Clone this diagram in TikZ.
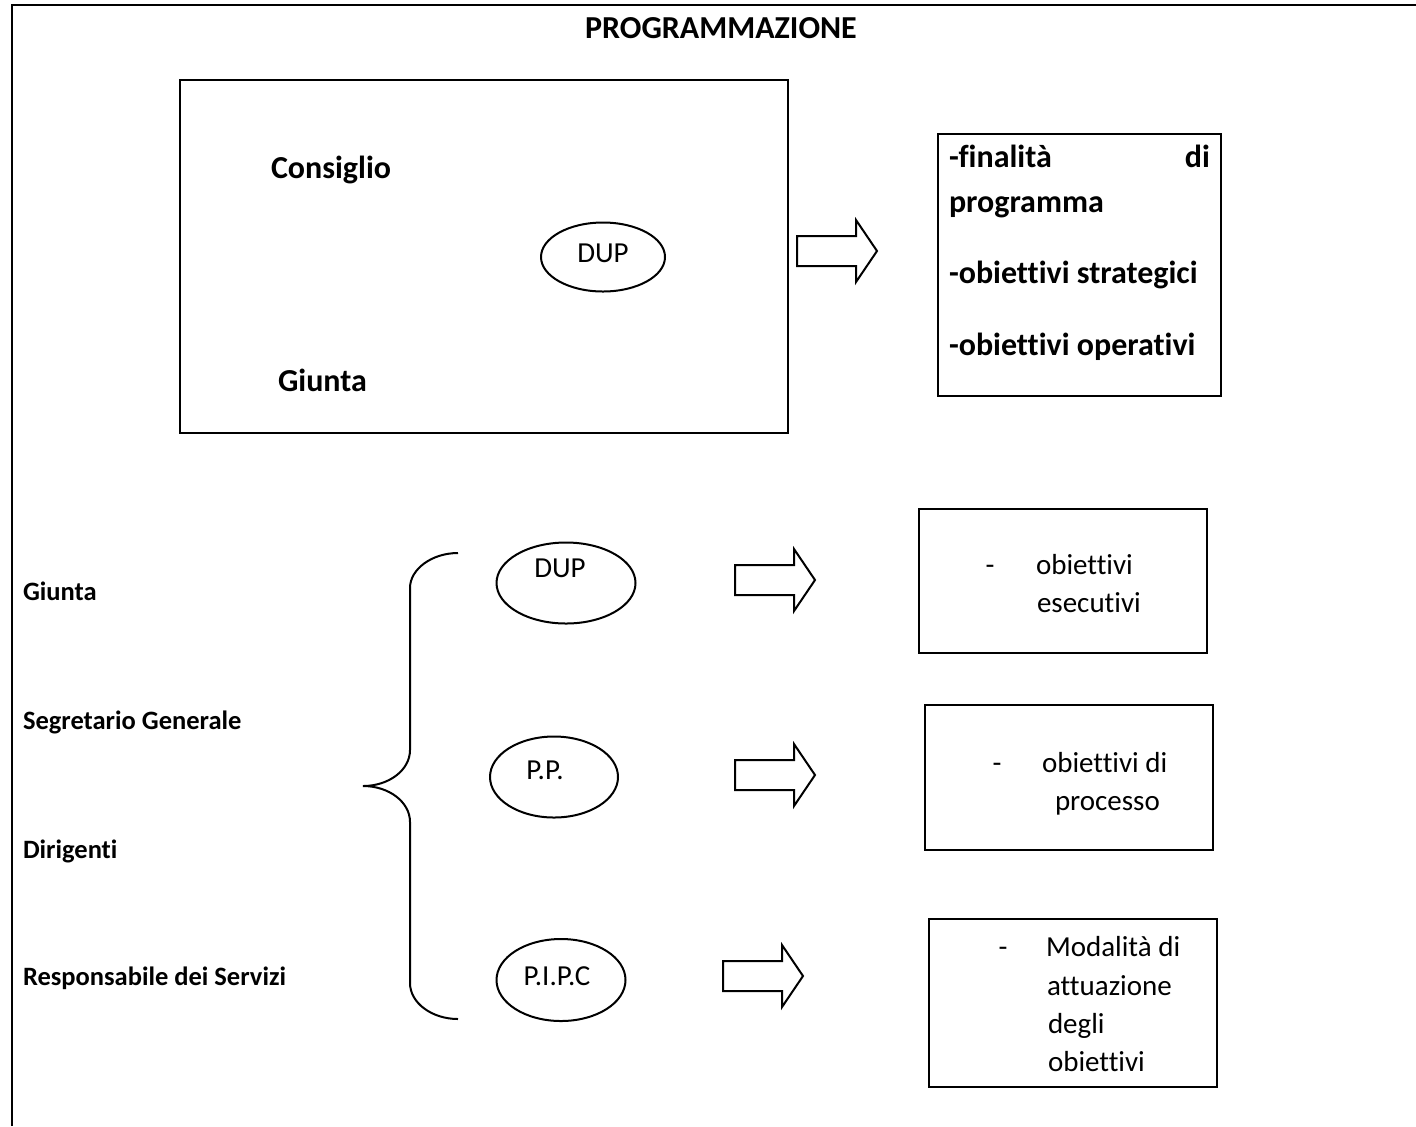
\documentclass[tikz,border=0pt]{standalone}
\usepackage{fontspec}
\setmainfont{Carlito}[Ligatures=CommonOff]
\usetikzlibrary{shapes.geometric}

\tikzset{
	big/.style={font=\fontsize{16}{19}\selectfont\bfseries},
	lab/.style={font=\fontsize{13.25}{16}\selectfont\bfseries},
	txt/.style={font=\fontsize{14.5}{17}\selectfont},
	oval/.style={draw, ellipse, line width=1pt, inner sep=0pt},
	fatarrow/.pic={\draw[line width=1pt] (0,-15) -- (59,-15) -- (59,-31) -- (80,0) -- (59,31) -- (59,15) -- (0,15) -- cycle;}
}

\begin{document}
\begin{tikzpicture}[x=0.5pt, y=-0.5pt, line width=1pt]
	\useasboundingbox (0,0) rectangle (1416,1126);
	\draw[line width=1.3pt] (12,1126) -- (12,5) -- (1416,5);
	\node[big] (1) at (721,28) {PROGRAMMAZIONE};

	% upper part
	\draw (180,80) rectangle (788,433);
	\node[big, anchor=base west, inner sep=0pt] (2) at (270,178) {Consiglio};
	\node[big, anchor=base west, inner sep=0pt] (3) at (277,391) {Giunta};
	\node[oval, minimum width=62pt, minimum height=34.5pt] (4) at (603,257) {};
	\node[txt, anchor=base] (5) at (603,262) {DUP};
	\pic at (797,251) {fatarrow};
	\draw (938,134) rectangle (1221,396);
	\node[big, anchor=base west, inner sep=0pt] (6) at (948,167) {-finalità};
	\node[big, anchor=base east, inner sep=0pt] (7) at (1211,167) {di};
	\node[big, anchor=base west, inner sep=0pt] (8) at (948,212) {programma};
	\node[big, anchor=base west, inner sep=0pt] (9) at (948,283) {-obiettivi strategici};
	\node[big, anchor=base west, inner sep=0pt] (10) at (948,355) {-obiettivi operativi};

	% lower part
	\node[lab, anchor=base west, inner sep=0pt] (11) at (22,600) {Giunta};
	\node[lab, anchor=base west, inner sep=0pt] (12) at (22,729) {Segretario Generale};
	\node[lab, anchor=base west, inner sep=0pt] (13) at (22,858) {Dirigenti};
	\node[lab, anchor=base west, inner sep=0pt] (14) at (22,985) {Responsabile dei Servizi};
	\draw (458,553) .. controls (432,553) and (410,569) .. (410,588) -- (410,750)
		.. controls (410,770) and (389,786) .. (363,786)
		.. controls (389,786) and (410,802) .. (410,822) -- (410,983)
		.. controls (410,1003) and (432,1019) .. (458,1019);

	\node[oval, minimum width=69.5pt, minimum height=40.5pt] (15) at (566,583) {};
	\node[txt, anchor=base] (16) at (560,577) {DUP};
	\node[oval, minimum width=64pt, minimum height=40.5pt] (17) at (554,777) {};
	\node[txt, anchor=base] (18) at (545,779) {P.P.};
	\node[oval, minimum width=64.5pt, minimum height=41pt] (19) at (561,980) {};
	\node[txt, anchor=base] (20) at (557,985) {P.I.P.C};

	\pic at (735,580) {fatarrow};
	\pic at (735,775) {fatarrow};
	\pic at (723,976) {fatarrow};

	\draw (919,509) rectangle (1207,653);
	\node[txt, anchor=base] (21) at (990,574) {-};
	\node[txt, anchor=base west, inner sep=0pt] (22) at (1035,574) {obiettivi};
	\node[txt, anchor=base west, inner sep=0pt] (23) at (1036,612) {esecutivi};

	\draw (925,705) rectangle (1213,850);
	\node[txt, anchor=base] (24) at (997,772) {-};
	\node[txt, anchor=base west, inner sep=0pt] (25) at (1041,772) {obiettivi di};
	\node[txt, anchor=base west, inner sep=0pt] (26) at (1054,810) {processo};

	\draw (929,919) rectangle (1217,1087);
	\node[txt, anchor=base] (27) at (1003,956) {-};
	\node[txt, anchor=base west, inner sep=0pt] (28) at (1045,956) {Modalità di};
	\node[txt, anchor=base west, inner sep=0pt] (29) at (1046,995) {attuazione};
	\node[txt, anchor=base west, inner sep=0pt] (30) at (1047,1033) {degli};
	\node[txt, anchor=base west, inner sep=0pt] (31) at (1047,1071) {obiettivi};
\end{tikzpicture}
\end{document}
